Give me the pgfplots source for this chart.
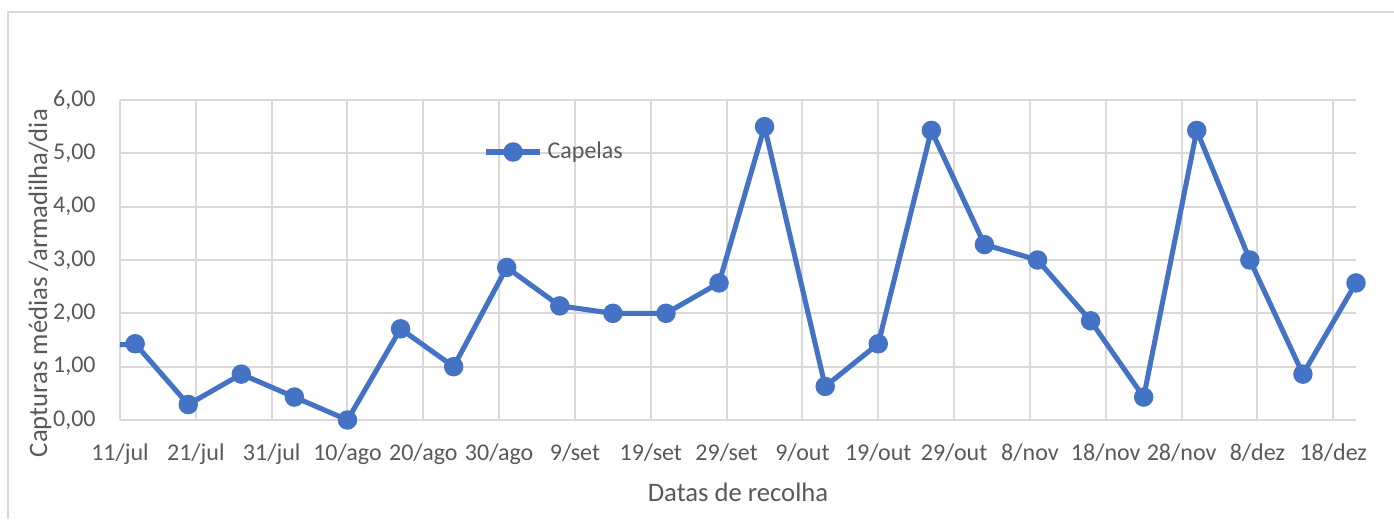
\documentclass[border=0pt]{standalone}
\usepackage{pgfplots}
\pgfplotsset{compat=1.18}
\usepackage{fontspec}
\setmainfont{Carlito}
\definecolor{serie}{HTML}{4472C4}
\definecolor{grelha}{HTML}{D9D9D9}
\definecolor{texto}{HTML}{595959}

% dias contados a partir de 11/jul
\begin{document}
\begin{tikzpicture}
\useasboundingbox (-45pt,-37.125pt) rectangle (477.75pt,157.5pt);
\draw[grelha, line width=0.75pt] (477.75pt,153pt) -- (-42pt,153pt) -- (-42pt,-37.125pt);
\begin{axis}[
    scale only axis,
    width=463.5pt, height=120pt,
    xmin=0, xmax=163,
    ymin=0, ymax=6,
    xtick={0,10,...,160},
    xticklabels={11/jul,21/jul,31/jul,10/ago,20/ago,30/ago,9/set,19/set,29/set,9/out,19/out,29/out,8/nov,18/nov,28/nov,8/dez,18/dez},
    ytick={0,1,...,6},
    yticklabel style={xshift=-5.6pt, /pgf/number format/.cd, fixed, fixed zerofill, precision=2, use comma, assume math mode=true},
    xticklabel style={yshift=-5.5pt},
    tick label style={font=\fontsize{9}{11}\selectfont, text=texto},
    major tick length=0pt,
    axis line style={draw=none},
    grid=major,
    grid style={grelha, line width=0.75pt},
    xlabel={Datas de recolha},
    ylabel={Capturas médias /armadilha/dia},
    label style={font=\fontsize{10}{12}\selectfont, text=texto},
    xlabel style={at={(axis description cs:0.5,-0.225)}, anchor=center},
    ylabel style={at={(axis description cs:-0.0647,0.428)}, anchor=center},
    legend style={at={(0.294,0.8375)}, anchor=west, draw=none, fill=none,
        font=\fontsize{9}{11}\selectfont, text=texto, inner xsep=0pt},
    legend image code/.code={\draw[mark repeat=2,mark phase=2] plot coordinates {(0pt,0pt)(10pt,0pt)(20pt,0pt)};},
]
\addplot[color=serie, line width=1.9pt, mark=*, mark size=3.4pt, mark options={solid, line width=0.5pt}]
    coordinates {
    (-5,1.36)(2,1.43)(9,0.29)(16,0.86)(23,0.43)(30,0.00)(37,1.71)(44,1.00)
    (51,2.86)(58,2.14)(65,2.00)(72,2.00)(79,2.57)(85,5.50)(93,0.63)(100,1.43)
    (107,5.43)(114,3.29)(121,3.00)(128,1.86)(135,0.43)(142,5.43)(149,3.00)
    (156,0.86)(163,2.57)
    };
\addlegendentry{Capelas}
\end{axis}
\end{tikzpicture}
\end{document}
